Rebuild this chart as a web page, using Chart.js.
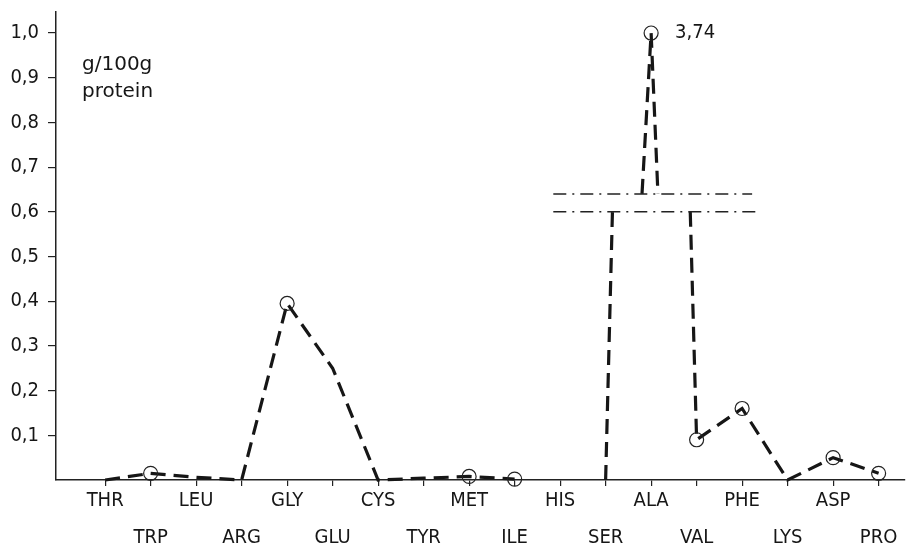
<!DOCTYPE html>
<html>
<head>
<meta charset="utf-8">
<script src="https://cdn.jsdelivr.net/npm/chart.js@4"></script>
<style>
  html, body { margin: 0; padding: 0; background: #fff; }
  #wrap { width: 907px; height: 551px; }
</style>
</head>
<body>
<div id="wrap"><canvas id="aminoChart" width="907" height="551"></canvas></div>
<script>
// amino acid content, g/100g protein
const categories = ['THR', 'TRP', 'LEU', 'ARG', 'GLY', 'GLU', 'CYS', 'TYR', 'MET',
                    'ILE', 'HIS', 'SER', 'ALA', 'VAL', 'PHE', 'LYS', 'ASP', 'PRO'];
const values = [0, 0.015, 0.006, 0, 0.395, 0.25, 0, 0.004, 0.008,
                0.002, 0, 0, 3.74, 0.09, 0.16, 0, 0.05, 0.015];
const circled = [false, true, false, false, true, false, false, false, true,
                 true, false, false, true, true, true, false, true, true];
const yTicks = [0, 0.1, 0.2, 0.3, 0.4, 0.5, 0.6, 0.7, 0.8, 0.9, 1.0];

// broken axis for the off-scale value (ALA)
const axisTop = 1.0;
const breakLow = 0.6;
const breakHigh = 0.64;
const breakLeftX = [11.15, 11.8];
const breakRightX = [12.15, 12.86];

const FONT = "'DejaVu Sans Condensed', 'DejaVu Sans', sans-serif";
const INK = '#161616';

// build plotted points; off-scale value is drawn through the break
const points = [];
values.forEach((v, i) => {
  if (v > axisTop) {
    points.push({ x: breakLeftX[0], y: breakLow });
    points.push({ x: breakLeftX[0], y: null });
    points.push({ x: breakLeftX[1], y: breakHigh });
    points.push({ x: i, y: axisTop, c: circled[i], real: v });
    points.push({ x: breakRightX[0], y: breakHigh });
    points.push({ x: breakRightX[0], y: null });
    points.push({ x: breakRightX[1], y: breakLow });
  } else {
    points.push({ x: i, y: v, c: circled[i] });
  }
});

const fmt = v => v.toFixed(1).replace('.', ',');

const annotations = {
  id: 'annotations',
  afterDatasetsDraw(chart) {
    const { ctx, chartArea, scales: { x, y } } = chart;
    ctx.save();
    // break lines
    ctx.strokeStyle = '#222';
    ctx.lineWidth = 1.4;
    ctx.setLineDash([13, 6, 2, 6]);
    [[breakHigh, 9.85, 14.22], [breakLow, 9.85, 14.35]].forEach(([v, a, b]) => {
      ctx.beginPath();
      ctx.moveTo(x.getPixelForValue(a), y.getPixelForValue(v));
      ctx.lineTo(x.getPixelForValue(b), y.getPixelForValue(v));
      ctx.stroke();
    });
    ctx.setLineDash([]);
    // value label of off-scale point
    ctx.fillStyle = INK;
    ctx.font = "20px " + FONT;
    ctx.textBaseline = 'middle';
    ctx.textAlign = 'left';
    points.filter(p => p.real).forEach(p => {
      ctx.fillText(p.real.toFixed(2).replace('.', ','), x.getPixelForValue(p.x) + 24, y.getPixelForValue(p.y));
    });
    // unit label
    ctx.font = "20px 'DejaVu Sans', sans-serif";
    ctx.fillText('g/100g', chartArea.left + 26, chartArea.top + 53);
    ctx.fillText('protein', chartArea.left + 26, chartArea.top + 80);
    ctx.restore();
  }
};

new Chart(document.getElementById('aminoChart'), {
  type: 'line',
  data: {
    datasets: [{
      data: points,
      borderColor: INK,
      borderWidth: 3.2,
      borderDash: [15, 8],
      tension: 0,
      spanGaps: false,
      clip: false,
      pointRadius: ctx => (ctx.raw && ctx.raw.c) ? 7 : 0,
      pointBorderWidth: 1.2,
      pointBorderColor: '#222',
      pointBackgroundColor: 'rgba(0,0,0,0)',
      segment: {
        borderColor: ctx => (ctx.p0.parsed.y < 0.003 && ctx.p1.parsed.y < 0.003) ? 'rgba(0,0,0,0)' : INK
      }
    }]
  },
  options: {
    responsive: false,
    animation: false,
    layout: { autoPadding: false, padding: { top: 12, right: 2, left: 0, bottom: 0 } },
    plugins: { legend: { display: false }, tooltip: { enabled: false } },
    scales: {
      x: {
        type: 'linear',
        min: -1.08,
        max: 17.58,
        afterBuildTicks: s => { s.ticks = categories.map((_, i) => ({ value: i })); },
        afterFit: s => { s.height = 71; s.paddingLeft = 0; s.paddingRight = 0; },
        grid: { drawOnChartArea: false, drawTicks: true, tickLength: 6, color: '#222', lineWidth: 1.2 },
        border: { color: '#222', width: 1.5 },
        ticks: {
          autoSkip: false,
          maxRotation: 0,
          padding: -4,
          color: INK,
          font: { family: FONT, size: 20, lineHeight: '37px' },
          callback: v => (v % 2 === 0) ? [categories[v], ''] : ['', categories[v]]
        }
      },
      y: {
        min: 0,
        max: 1.047,
        afterBuildTicks: s => { s.ticks = yTicks.map(v => ({ value: v })); },
        afterFit: s => { s.width = 56; s.paddingTop = 0; s.paddingBottom = 0; },
        grid: {
          drawOnChartArea: false, drawTicks: true, tickLength: 8, lineWidth: 1.2,
          color: ctx => ctx.tick && ctx.tick.value === 0 ? 'rgba(0,0,0,0)' : '#222'
        },
        border: { color: '#222', width: 1.5 },
        ticks: {
          padding: 9,
          color: INK,
          font: { family: FONT, size: 20 },
          callback: v => v === 0 ? '' : fmt(v)
        }
      }
    }
  },
  plugins: [annotations]
});
</script>
</body>
</html>
